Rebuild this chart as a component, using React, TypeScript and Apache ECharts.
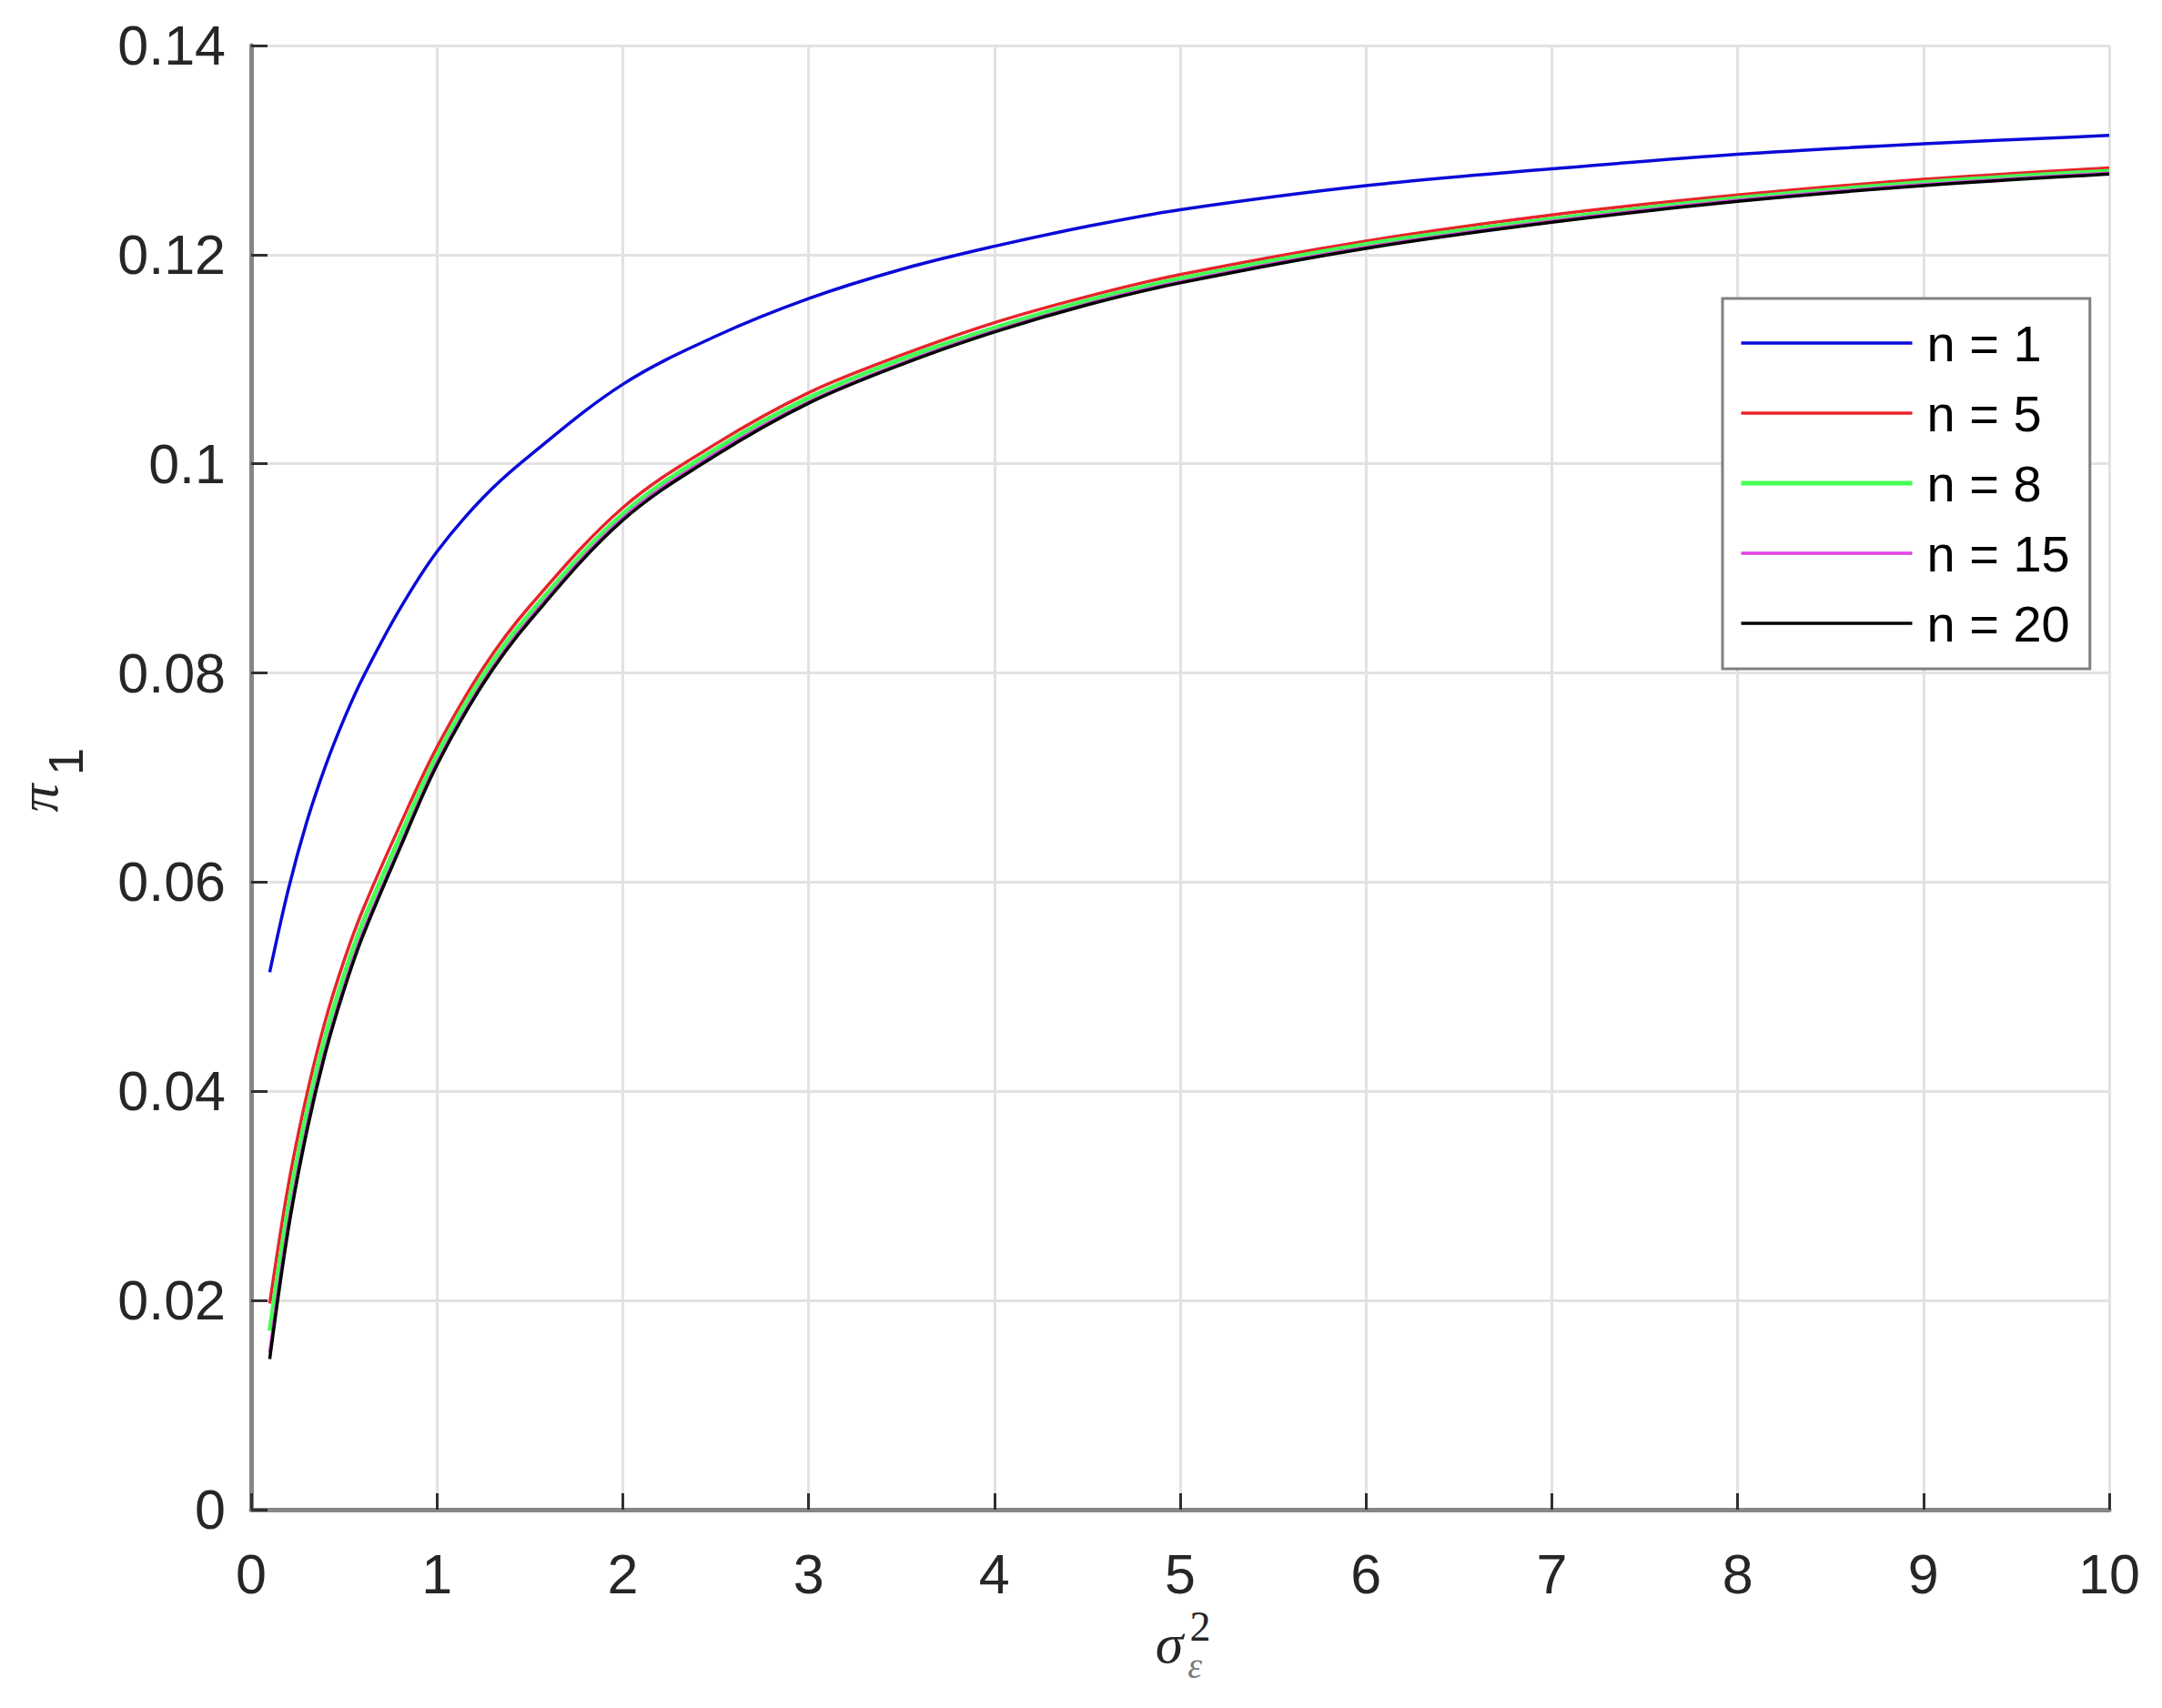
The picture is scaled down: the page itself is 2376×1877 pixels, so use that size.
import React, { useEffect, useRef } from "react";
import * as echarts from "echarts";

const xs = [0.1, 0.2, 0.3, 0.4, 0.5, 0.6, 0.8, 1, 1.25, 1.5, 2, 2.5, 3, 3.5, 4, 4.5, 5, 6, 7, 8, 9, 10];

const n1 = [0.0514, 0.0593, 0.0658, 0.0711, 0.0756, 0.0795, 0.0861, 0.0916, 0.0968, 0.1008, 0.1076, 0.1122, 0.1158, 0.1186, 0.1208, 0.1227, 0.1243, 0.1266, 0.1282, 0.1296, 0.1306, 0.1314];
const n5 = [0.0197, 0.031, 0.0397, 0.0468, 0.0525, 0.0573, 0.0654, 0.0729, 0.0805, 0.0864, 0.0958, 0.1019, 0.1068, 0.1104, 0.1135, 0.116, 0.1181, 0.1213, 0.1238, 0.1257, 0.1272, 0.1283];
const n8 = [0.0171, 0.0289, 0.038, 0.0453, 0.0511, 0.0561, 0.0643, 0.0721, 0.0798, 0.0857, 0.0952, 0.1014, 0.1063, 0.11, 0.113, 0.1156, 0.1177, 0.121, 0.1234, 0.1254, 0.1269, 0.128];
const n15 = [0.015, 0.0273, 0.0366, 0.044, 0.05, 0.0551, 0.0634, 0.0714, 0.0792, 0.0852, 0.0948, 0.101, 0.1059, 0.1096, 0.1127, 0.1153, 0.1174, 0.1207, 0.1232, 0.1252, 0.1267, 0.1278];
const n20 = [0.0144, 0.0268, 0.0362, 0.0437, 0.0497, 0.0548, 0.0632, 0.0712, 0.079, 0.085, 0.0946, 0.1008, 0.1058, 0.1095, 0.1126, 0.1152, 0.1173, 0.1206, 0.1231, 0.1251, 0.1266, 0.1277];

const seriesNames = ["n = 1", "n = 5", "n = 8", "n = 15", "n = 20"];
const seriesValues = [n1, n5, n8, n15, n20];
const seriesColors = ["#0a0ad8", "#e8232a", "#44ff55", "#e040e6", "#000000"];
const seriesWidths = [3.5, 3.5, 5, 3.5, 3.5];

export default function App() {
  const ref = useRef<HTMLDivElement>(null);
  useEffect(() => {
    document.body.style.margin = "0";
    const chart = echarts.init(ref.current!, null, { renderer: "svg" });
    const axisFont = "'Liberation Sans', Arial, sans-serif";
    const serif = "'Liberation Serif', 'DejaVu Serif', serif";
    chart.setOption({
      animation: false,
      backgroundColor: "#ffffff",
      grid: { left: 276, top: 50, right: 58, bottom: 218, containLabel: false },
      xAxis: {
        type: "value",
        min: 0,
        max: 10,
        interval: 1,
        axisLine: { show: true, onZero: false, lineStyle: { color: "#868686", width: 5 } },
        axisTick: { show: true, inside: true, length: 18, lineStyle: { color: "#303030", width: 3 } },
        splitLine: { show: true, lineStyle: { color: "#e2e2e2", width: 3 } },
        axisLabel: { fontSize: 61, fontFamily: axisFont, color: "#262626", margin: 40 },
      },
      yAxis: {
        type: "value",
        min: 0,
        max: 0.14,
        interval: 0.02,
        axisLine: { show: true, onZero: false, lineStyle: { color: "#868686", width: 5 } },
        axisTick: { show: true, inside: true, length: 18, lineStyle: { color: "#303030", width: 3 } },
        splitLine: { show: true, lineStyle: { color: "#e2e2e2", width: 3 } },
        axisLabel: { fontSize: 61, fontFamily: axisFont, color: "#262626", margin: 28 },
      },
      legend: {
        orient: "vertical",
        left: 1893,
        top: 328,
        padding: [21, 22, 22, 18],
        itemWidth: 188,
        itemHeight: 52,
        itemGap: 21,
        borderColor: "#808080",
        borderWidth: 3,
        backgroundColor: "#ffffff",
        itemStyle: { opacity: 0, color: "transparent", borderWidth: 0 },
        textStyle: { fontSize: 56, fontFamily: axisFont, color: "#000000", lineHeight: 52, padding: [0, 0, 0, 11] },
        data: seriesNames.map((name, i) => ({
          name,
          lineStyle: { width: seriesWidths[i], color: seriesColors[i] },
        })),
      },
      series: seriesNames.map((name, i) => ({
        name,
        type: "line",
        symbol: "none",
        smooth: 0.35,
        data: xs.map((x, j) => [x, seriesValues[i][j]]),
        lineStyle: { color: seriesColors[i], width: seriesWidths[i] },
        itemStyle: { color: seriesColors[i] },
        z: 2 + i,
      })),
      graphic: [
        {
          type: "group",
          x: 42,
          y: 877,
          rotation: Math.PI / 2,
          children: [
            {
              type: "text",
              x: 0,
              y: 0,
              style: {
                text: "π",
                fontSize: 62,
                fontStyle: "italic",
                fontFamily: serif,
                fill: "#262626",
                align: "center",
                verticalAlign: "middle",
              },
            },
            {
              type: "text",
              x: 40,
              y: 30,
              style: {
                text: "1",
                fontSize: 54,
                fontFamily: axisFont,
                fill: "#262626",
                align: "center",
                verticalAlign: "middle",
              },
            },
          ],
        },
        {
          type: "text",
          x: 1285,
          y: 1806,
          style: {
            text: "σ",
            fontSize: 62,
            fontStyle: "italic",
            fontFamily: serif,
            fill: "#262626",
            align: "center",
            verticalAlign: "middle",
          },
        },
        {
          type: "text",
          x: 1319,
          y: 1787,
          style: {
            text: "2",
            fontSize: 46,
            fontFamily: serif,
            fill: "#262626",
            align: "center",
            verticalAlign: "middle",
          },
        },
        {
          type: "text",
          x: 1313,
          y: 1830,
          style: {
            text: "ε",
            fontSize: 40,
            fontStyle: "italic",
            fontFamily: serif,
            fill: "#7a7a7a",
            align: "center",
            verticalAlign: "middle",
          },
        },
      ],
    });
    return () => chart.dispose();
  }, []);
  return <div ref={ref} style={{ position: "absolute", left: 0, top: 0, width: 2376, height: 1877 }} />;
}
